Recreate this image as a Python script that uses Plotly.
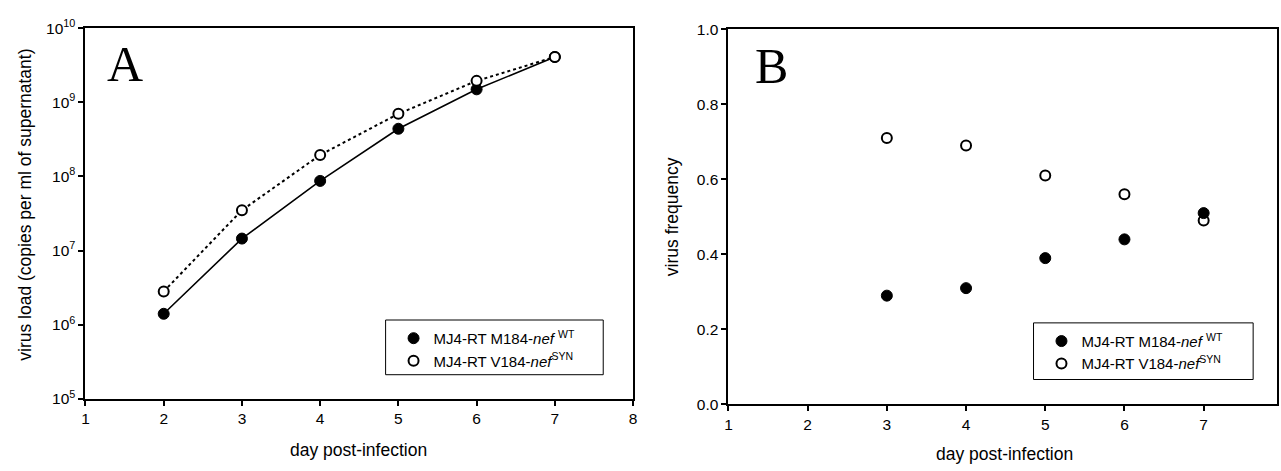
import plotly.graph_objects as go

# ---------------- data ----------------
days_a = [2, 3, 4, 5, 6, 7]
load_wt = [1.4e6, 1.45e7, 8.7e7, 4.4e8, 1.5e9, 4.1e9]
load_syn = [2.8e6, 3.5e7, 1.95e8, 7.0e8, 1.95e9, 4.1e9]

days_b = [3, 4, 5, 6, 7]
freq_wt = [0.29, 0.31, 0.39, 0.44, 0.51]
freq_syn = [0.71, 0.69, 0.61, 0.56, 0.49]

x_ticks = [1, 2, 3, 4, 5, 6, 7, 8]
y_ticks_a = [1e5, 1e6, 1e7, 1e8, 1e9, 1e10]
y_ticklabels_a = ["10<sup>5</sup>", "10<sup>6</sup>", "10<sup>7</sup>", "10<sup>8</sup>",
                  "10<sup>9</sup>", "10<sup>10</sup>"]
y_ticks_b = [0.0, 0.2, 0.4, 0.6, 0.8, 1.0]

name_wt = "MJ4-RT M184-<i>nef</i> <sup>WT</sup>"
name_syn = "MJ4-RT V184-<i>nef</i><sup>SYN</sup>"

W, H = 1281, 471
FONT = "Liberation Sans, Arial, sans-serif"
SERIF = "Liberation Serif, Times New Roman, serif"

def px(x):
    return x / W

def py(y):
    return 1 - y / H

fig = go.Figure()

filled = dict(symbol="circle", size=11, color="black", line=dict(color="black", width=1))
opened = dict(symbol="circle-open", size=10, color="black", line=dict(color="black", width=2))

# Panel A
fig.add_trace(go.Scatter(x=days_a, y=load_wt, mode="lines+markers", marker=filled,
                         line=dict(color="black", width=1.6), xaxis="x", yaxis="y", showlegend=False))
fig.add_trace(go.Scatter(x=days_a, y=load_syn, mode="lines+markers",
                         marker=dict(symbol="circle", size=10, color="white", line=dict(color="black", width=2)),
                         line=dict(color="black", width=2, dash="dot"), xaxis="x", yaxis="y", showlegend=False))
# legend entries A (marker only)
fig.add_trace(go.Scatter(x=[None], y=[None], mode="markers", marker=filled, name=name_wt,
                         xaxis="x", yaxis="y", legend="legend"))
fig.add_trace(go.Scatter(x=[None], y=[None], mode="markers", marker=opened, name=name_syn,
                         xaxis="x", yaxis="y", legend="legend"))

# Panel B
fig.add_trace(go.Scatter(x=days_b, y=freq_wt, mode="markers", marker=filled, name=name_wt,
                         xaxis="x2", yaxis="y2", legend="legend2"))
fig.add_trace(go.Scatter(x=days_b, y=freq_syn, mode="markers", marker=opened, name=name_syn,
                         xaxis="x2", yaxis="y2", legend="legend2"))

axis_common = dict(showline=True, linecolor="black", linewidth=2, mirror=True,
                   ticks="outside", ticklen=5, tickwidth=2, tickcolor="black",
                   showgrid=False, zeroline=False,
                   tickfont=dict(family=FONT, size=15.5, color="black"))

legend_common = dict(xanchor="left", yanchor="top", bgcolor="rgba(0,0,0,0)",
                     borderwidth=0, font=dict(family=FONT, size=15, color="black"),
                     tracegroupgap=0, itemwidth=30)

title_font = dict(family=FONT, size=17.5, color="black")

fig.update_layout(
    width=W, height=H,
    margin=dict(l=0, r=0, t=0, b=0),
    paper_bgcolor="white", plot_bgcolor="white",
    font=dict(family=FONT, color="black"),
    xaxis=dict(domain=[px(82), px(633)], range=[1, 8], tickvals=x_ticks, anchor="y", **axis_common),
    yaxis=dict(domain=[py(404), py(18)], type="log", range=[5, 10], tickvals=y_ticks_a,
               ticktext=y_ticklabels_a, anchor="x", **axis_common),
    xaxis2=dict(domain=[px(729), 1.0], range=[1, 1 + (1281 - 729) / 79.7], tickvals=x_ticks,
                anchor="y2", **axis_common),
    yaxis2=dict(domain=[py(410), py(19)], range=[0, 1], tickvals=y_ticks_b, tickformat=".1f",
                anchor="x2", **axis_common),
    legend=dict(x=px(392), y=py(324), **legend_common),
    legend2=dict(x=px(1044), y=py(327), **legend_common),
    shapes=[
        dict(type="rect", xref="paper", yref="paper", x0=px(384), x1=px(603), y0=py(379), y1=py(322),
             line=dict(color="black", width=1), fillcolor="white", layer="below"),
        dict(type="rect", xref="paper", yref="paper", x0=px(1036), x1=px(1257), y0=py(384), y1=py(325),
             line=dict(color="black", width=1), fillcolor="white", layer="below"),
    ],
    annotations=[
        dict(text="A", xref="paper", yref="paper", x=px(122), y=py(55), xanchor="center", yanchor="middle",
             showarrow=False, font=dict(family=SERIF, size=50, color="black")),
        dict(text="B", xref="paper", yref="paper", x=px(772), y=py(57), xanchor="center", yanchor="middle",
             showarrow=False, font=dict(family=SERIF, size=50, color="black")),
        dict(text="virus load (copies per ml of supernatant)", xref="paper", yref="paper",
             x=px(21), y=py(202), xanchor="center", yanchor="middle", textangle=-90, showarrow=False,
             font=title_font),
        dict(text="virus frequency", xref="paper", yref="paper",
             x=px(673), y=py(214), xanchor="center", yanchor="middle", textangle=-90, showarrow=False,
             font=title_font),
        dict(text="day post-infection", xref="paper", yref="paper",
             x=px(357), y=py(457), xanchor="center", yanchor="middle", showarrow=False,
             font=title_font),
        dict(text="day post-infection", xref="paper", yref="paper",
             x=px(1007), y=py(462), xanchor="center", yanchor="middle", showarrow=False,
             font=title_font),
    ],
)

fig.write_html("out.html")
